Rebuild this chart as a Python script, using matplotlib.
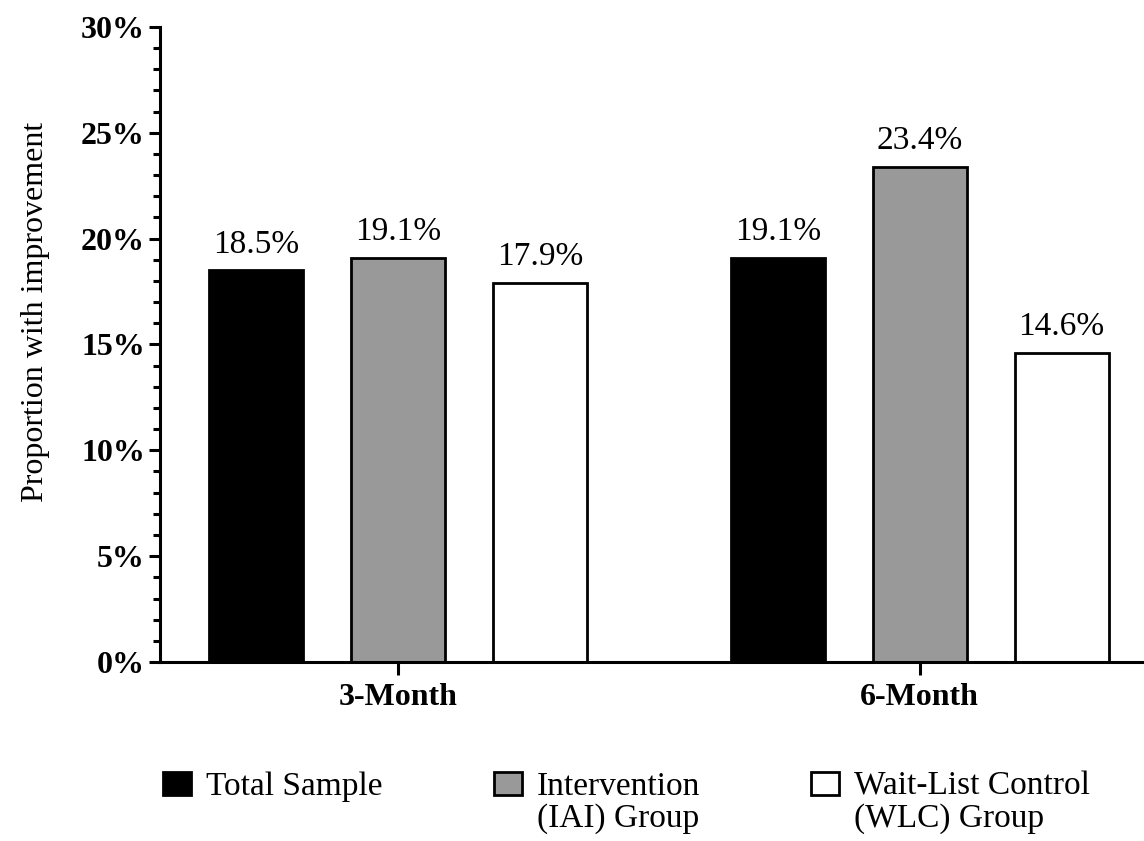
import matplotlib.pyplot as plt
import numpy as np
from matplotlib.patches import Patch

plt.rcParams['font.family'] = ['Liberation Serif', 'DejaVu Serif']

# Data
timepoints = ['3-Month', '6-Month']
groups = ['Total Sample', 'Intervention', 'Wait-List Control']
groups_line2 = ['', '(IAI) Group', '(WLC) Group']
total_sample = [18.5, 19.1]
intervention = [19.1, 23.4]
waitlist = [17.9, 14.6]
colors = ['#000000', '#999999', '#ffffff']

fig = plt.figure(figsize=(11.44, 8.41), dpi=100)
ax = fig.add_axes([0.14, 0.2128, 0.86, 0.7552])

x = np.arange(len(timepoints))
offset = 0.272
width = 0.18
series = [total_sample, intervention, waitlist]
for i, (vals, c) in enumerate(zip(series, colors)):
    pos = x + (i - 1) * offset
    ax.bar(pos, vals, width=width, color=c, edgecolor='black', linewidth=2.0, zorder=2)
    for p, v in zip(pos, vals):
        ax.text(p, v + 0.5, f'{v:.1f}%', ha='center', va='bottom', fontsize=24)

ax.set_xlim(-0.456, 1.43)
ax.set_ylim(0, 30)
ax.set_yticks(np.arange(0, 31, 5))
ax.set_yticks(np.arange(0, 31, 1), minor=True)
ax.set_yticklabels([f'{t}%' for t in range(0, 31, 5)], fontsize=23, fontweight='bold')
ax.set_xticks(x)
ax.set_xticklabels(timepoints, fontsize=23, fontweight='bold')
ax.set_ylabel('Proportion with improvement', fontsize=23)
ax.yaxis.set_label_coords(-0.112, 0.551)

for s in ['top', 'right']:
    ax.spines[s].set_visible(False)
for s in ['left', 'bottom']:
    ax.spines[s].set_linewidth(2.2)
ax.tick_params(axis='y', which='major', length=8, width=2.2, pad=3)
ax.tick_params(axis='y', which='minor', length=5, width=2.2)
ax.tick_params(axis='x', which='major', length=9, width=2.2, pad=6)

handles = [Patch(facecolor=c, edgecolor='black', linewidth=2.0) for c in colors]
leg = fig.legend(handles, groups, loc='upper left', bbox_to_anchor=(0.1311, 0.0986),
                 ncol=3, frameon=False, fontsize=24, handlelength=0.84, handleheight=0.7,
                 handletextpad=0.45, columnspacing=3.33, borderaxespad=0)

# second lines of the legend labels, placed under the first lines
fig.canvas.draw()
for t, extra in zip(leg.get_texts(), groups_line2):
    if not extra:
        continue
    px, py = t.get_transform().transform(t.get_position())
    fx, fy = fig.transFigure.inverted().transform((px, py - 32))
    fig.text(fx, fy, extra, ha='left', va='baseline', fontsize=24)

fig.savefig('out.png', dpi=100)
